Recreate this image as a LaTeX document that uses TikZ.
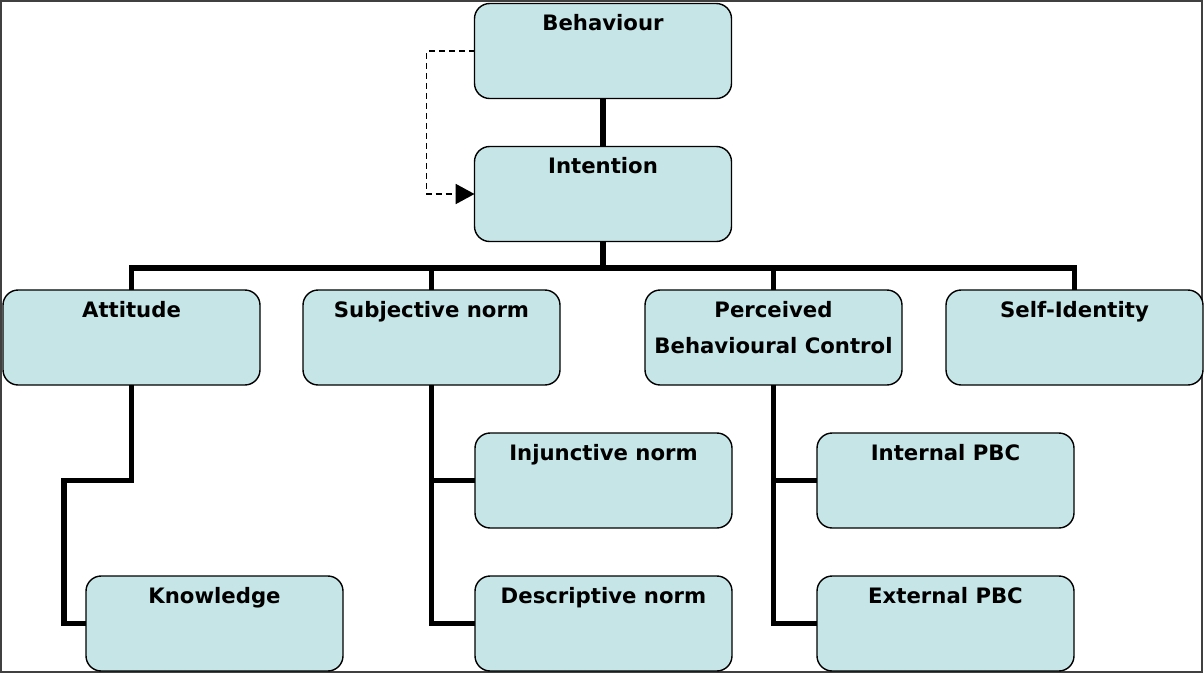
\documentclass[tikz,border=0pt]{standalone}
\usepackage{fontspec}
\setmainfont{DejaVu Sans}
\usetikzlibrary{positioning, arrows.meta}
\definecolor{boxfill}{RGB}{197,229,231}

\begin{document}
\begin{tikzpicture}[
        box/.style={rectangle, rounded corners=0.38cm, draw, line width=1pt, fill=boxfill, minimum width=6.425cm, minimum height=2.375cm, inner sep=0pt, outer sep=0pt},
        boxtext/.style={anchor=north, inner sep=0pt, yshift=-0.27cm, align=center, font=\fontsize{15.1}{18}\selectfont\bfseries},
        wire/.style={-, line width=4pt},
        feedback/.style={dash pattern=on 0.15cm off 0.1cm, line width=1.1pt, -{Triangle[length=0.47cm, width=0.5cm]}}
    ]
        \useasboundingbox (0,0) rectangle (30.1,-16.85);
        \draw[black!75, line width=0.9pt] (0.025,-0.025) rectangle (30.05,-16.8);

        % Top
        \node[box, label={[boxtext]north:Behaviour}] (beh) at (15.075,-1.275) {};
        \node[box, below=1.2cm of beh, label={[boxtext]north:Intention}] (int) {};

        % Determinants
        \node[box, label={[boxtext]north:Attitude}] (att) at (3.2875,-8.4375) {};
        \node[box, right=1.075cm of att, label={[boxtext]north:Subjective norm}] (sub) {};
        \node[box, right=2.125cm of sub, label={[boxtext]north:Perceived\\[8pt]Behavioural Control}] (pbc) {};
        \node[box, right=1.1cm of pbc, label={[boxtext]north:Self-Identity}] (self) {};

        % Sub-components
        \node[box, below=4.775cm of att, xshift=2.075cm, label={[boxtext]north:Knowledge}] (knw) {};
        \node[box, below=1.2cm of sub, xshift=4.3cm, label={[boxtext]north:Injunctive norm}] (inj) {};
        \node[box, below=1.2cm of inj, label={[boxtext]north:Descriptive norm}] (des) {};
        \node[box, below=1.2cm of pbc, xshift=4.3cm, label={[boxtext]north:Internal PBC}] (ipbc) {};
        \node[box, below=1.2cm of ipbc, label={[boxtext]north:External PBC}] (epbc) {};

        \coordinate (bus) at (0,-6.7);

        \draw[wire] (beh) -- (int);
        \draw[wire] (int.south) -- (int.south |- bus);
        \draw[wire] (att.north) -- (att.north |- bus) -- (self.north |- bus) -- (self.north);
        \draw[wire] (sub.north) -- (sub.north |- bus);
        \draw[wire] (pbc.north) -- (pbc.north |- bus);

        \draw[wire] (att.south) -- (att.south |- inj.west) -| ([xshift=-0.55cm]knw.west) -- (knw.west);
        \draw[wire] (sub.south) |- (des.west);
        \draw[wire] (sub.south |- inj.west) -- (inj.west);
        \draw[wire] (pbc.south) |- (epbc.west);
        \draw[wire] (pbc.south |- ipbc.west) -- (ipbc.west);

        \draw[feedback] (beh.west) -- ++(-1.2,0) |- (int.west);

    \end{tikzpicture}
\end{document}
